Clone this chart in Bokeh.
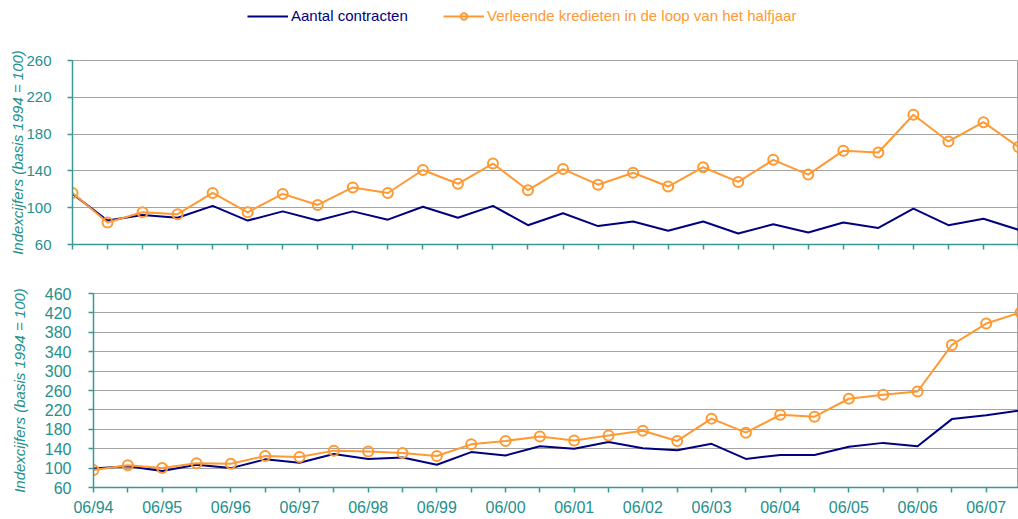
from bokeh.plotting import figure
from bokeh.models import Range1d, FixedTicker, Legend, LegendItem
from bokeh.layouts import column, row
from bokeh.embed import file_html
from bokeh.resources import INLINE

# ---- data ----
periods = ["06/94", "12/94", "06/95", "12/95", "06/96", "12/96", "06/97", "12/97",
           "06/98", "12/98", "06/99", "12/99", "06/00", "12/00", "06/01", "12/01",
           "06/02", "12/02", "06/03", "12/03", "06/04", "12/04", "06/05", "12/05",
           "06/06", "12/06", "06/07", "12/07"]

series_names = ["Aantal contracten", "Verleende kredieten in de loop van het halfjaar"]

aantal_top = [115, 86, 92, 89, 102, 86, 96, 86, 96, 87, 101, 89, 102, 81, 94, 80,
              85, 75, 85, 72, 82, 73, 84, 78, 99, 81, 88, 76]
krediet_top = [116, 84, 95, 93, 116, 95, 115, 103, 122, 116, 141, 126, 148, 119,
               142, 125, 138, 123, 144, 128, 152, 136, 162, 160, 201, 172, 193, 166]

aantal_bottom = [99, 104, 94, 107, 100, 118, 111, 129, 119, 122, 107, 133, 126, 145,
                 140, 154, 141, 137, 150, 119, 127, 127, 144, 152, 145, 201, 209, 219]
krediet_bottom = [96, 106, 100, 110, 109, 125, 123, 136, 134, 131, 125, 149, 156, 165,
                  157, 167, 177, 156, 202, 173, 210, 206, 243, 251, 258, 354, 398, 421]

y_title = "Indexcijfers (basis 1994 = 100)"
top_yticks = [60, 100, 140, 180, 220, 260]
bottom_yticks = [60, 100, 140, 180, 220, 260, 300, 340, 380, 420, 460]

# ---- styles ----
FONT = "Liberation Sans"
TEAL = "#24908c"
AXIS = "#3a9995"
NAVY = "#000080"
ORANGE = "#ff9933"
GRID = "#a3a3a3"
W = 1018

x = list(range(len(periods)))


def style(p, yticks, fsize):
    p.xgrid.grid_line_color = None
    p.ygrid.grid_line_color = GRID
    p.ygrid.grid_line_width = 1
    p.outline_line_color = GRID
    p.background_fill_color = "white"
    p.yaxis.ticker = FixedTicker(ticks=yticks)
    p.xaxis.ticker = FixedTicker(ticks=x)
    for ax in (p.xaxis[0], p.yaxis[0]):
        ax.axis_line_color = AXIS
        ax.axis_line_width = 1.5
        ax.major_tick_line_color = AXIS
        ax.major_tick_line_width = 1.5
        ax.major_tick_out = 5
        ax.major_tick_in = 0
        ax.minor_tick_line_color = None
        ax.major_label_text_font = FONT
        ax.major_label_text_font_size = fsize
        ax.major_label_text_color = TEAL
    p.yaxis.major_label_standoff = 16
    p.yaxis.axis_label = y_title
    p.yaxis.axis_label_text_font = FONT
    p.yaxis.axis_label_text_font_size = "15px"
    p.yaxis.axis_label_text_font_style = "italic"
    p.yaxis.axis_label_text_color = TEAL


# ---- legend strip (series drawn outside its visible range; only the legend shows) ----
p0 = figure(width=W, height=34, x_range=Range1d(0, 1), y_range=Range1d(0, 1),
            output_backend="svg", toolbar_location=None,
            min_border_left=0, min_border_right=0, min_border_top=0, min_border_bottom=0)
p0.axis.visible = False
p0.grid.visible = False
p0.outline_line_color = None
d1 = p0.line(x, aantal_top, line_color=NAVY, line_width=2)
d2 = p0.line(x, krediet_top, line_color=ORANGE, line_width=2)
d3 = p0.scatter(x, krediet_top, size=10, line_color=ORANGE, line_width=2, fill_alpha=0)

leg1 = Legend(items=[LegendItem(label=series_names[0], renderers=[d1])],
              location=(247, 10), label_text_color=NAVY)
leg2 = Legend(items=[LegendItem(label=series_names[1], renderers=[d2, d3])],
              location=(443, 10), label_text_color=ORANGE)
for lg in (leg1, leg2):
    lg.label_text_font = FONT
    lg.label_text_font_size = "15px"
    lg.background_fill_alpha = 0
    lg.border_line_alpha = 0
    lg.glyph_width = 41
    lg.glyph_height = 16
    lg.label_standoff = 3
    lg.padding = 0
    lg.margin = 0
    lg.label_height = 16
    p0.add_layout(lg, "center")

# ---- top chart ----
p1 = figure(width=W, height=228, x_range=Range1d(0, 27), y_range=Range1d(60, 260),
            output_backend="svg", toolbar_location=None,
            min_border_left=72, min_border_right=0, min_border_top=26, min_border_bottom=18)
style(p1, top_yticks, "15px")
p1.yaxis.axis_label_standoff = -3
p1.xaxis.major_label_overrides = {i: "" for i in x}
p1.xaxis.major_label_text_font_size = "0px"

p1.line(x, aantal_top, line_color=NAVY, line_width=2)
p1.line(x, krediet_top, line_color=ORANGE, line_width=2)
p1.scatter(x, krediet_top, size=10, line_color=ORANGE, line_width=2, fill_alpha=0)

# ---- bottom chart ----
p2 = figure(width=W, height=256, x_range=Range1d(0, 26.94), y_range=Range1d(60, 460),
            output_backend="svg", toolbar_location=None,
            min_border_left=93, min_border_right=0, min_border_top=31, min_border_bottom=31)
style(p2, bottom_yticks, "16px")
p2.yaxis.major_label_standoff = 17
p2.yaxis.axis_label_standoff = 14
p2.xaxis.major_label_overrides = {i: (periods[i] if i % 2 == 0 else "") for i in x}
p2.xaxis.major_label_standoff = 6

p2.line(x, aantal_bottom, line_color=NAVY, line_width=2)
p2.line(x, krediet_bottom, line_color=ORANGE, line_width=2)
p2.scatter(x, krediet_bottom, size=10, line_color=ORANGE, line_width=2, fill_alpha=0)

layout = column(row(p0), row(p1), row(p2), spacing=0)
open("out.html", "w").write(file_html(layout, INLINE))
